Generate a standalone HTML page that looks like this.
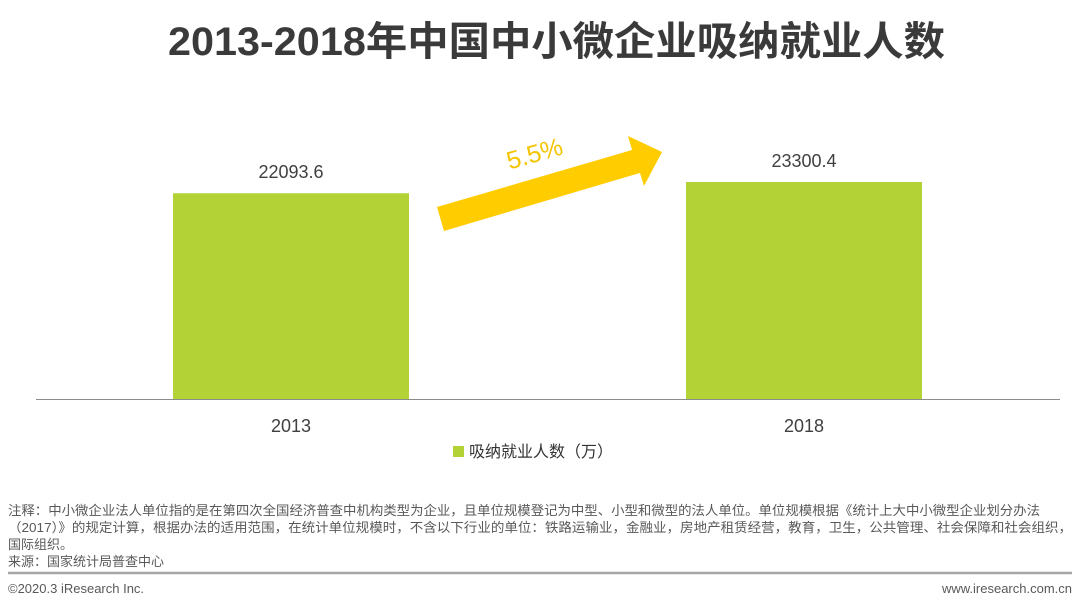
<!DOCTYPE html>
<html><head><meta charset="utf-8"><style>
body{margin:0;width:1080px;height:608px;background:#fff;overflow:hidden;font-family:"Liberation Sans","Noto Sans CJK SC",sans-serif;}
</style></head><body>
<svg width="1080" height="608" xmlns="http://www.w3.org/2000/svg" style="font-family:'Liberation Sans','Noto Sans CJK SC',sans-serif">
<text x="168" y="55" textLength="777" lengthAdjust="spacingAndGlyphs" font-size="40" font-weight="bold" fill="#3a3a3a">2013-2018年中国中小微企业吸纳就业人数</text>
<g id="plot"></g>
<line x1="36" y1="399.5" x2="1060" y2="399.5" stroke="#8c8c8c" stroke-width="1"/>
<polygon points="437,207 632,150 628,136 662,152 644,186 640,173 444,231" fill="#ffcc00"/>
<text x="535" y="162" text-anchor="middle" font-size="25" fill="#f5c400" transform="rotate(-16 535 155)">5.5%</text>
<rect x="453" y="446" width="11" height="11" fill="#b2d235"/>
<text x="469" y="457" font-size="16" fill="#333">吸纳就业人数（万）</text>
<g font-size="13" fill="#595959">
<text x="8" y="515" textLength="1032" lengthAdjust="spacingAndGlyphs">注释：中小微企业法人单位指的是在第四次全国经济普查中机构类型为企业，且单位规模登记为中型、小型和微型的法人单位。单位规模根据《统计上大中小微型企业划分办法</text>
<text x="8" y="532" textLength="1064" lengthAdjust="spacingAndGlyphs">（2017）》的规定计算，根据办法的适用范围，在统计单位规模时，不含以下行业的单位：铁路运输业，金融业，房地产租赁经营，教育，卫生，公共管理、社会保障和社会组织，</text>
<text x="8" y="549">国际组织。</text>
<text x="8" y="566">来源：国家统计局普查中心</text>
</g>
<line x1="8" y1="573" x2="1072" y2="573" stroke="#a6a6a6" stroke-width="2.5"/>
<text x="8" y="593" font-size="13" fill="#595959">©2020.3 iResearch Inc.</text>
<text x="1072" y="593" text-anchor="end" font-size="13" fill="#595959">www.iresearch.com.cn</text>
</svg>
<script>
const categories = ["2013","2018"];
const values = [22093.6, 23300.4];
const valueLabels = ["22093.6","23300.4"];
const yMax = 26737;
const baseY = 399, topY = 150;
const centers = [291, 804];
const barW = 236;
function yScale(v){return baseY - (v/yMax)*(baseY-topY);}
const ns="http://www.w3.org/2000/svg";
const g=document.getElementById('plot');
categories.forEach((c,i)=>{
  const y=yScale(values[i]);
  const r=document.createElementNS(ns,'rect');
  r.setAttribute('x',centers[i]-barW/2);r.setAttribute('y',y);
  r.setAttribute('width',barW);r.setAttribute('height',baseY-y);
  r.setAttribute('fill','#b2d235');
  
  
  g.appendChild(r);
  const t=document.createElementNS(ns,'text');
  t.setAttribute('x',centers[i]);t.setAttribute('y',y-15);
  t.setAttribute('text-anchor','middle');t.setAttribute('font-size','18');t.setAttribute('fill','#404040');
  t.textContent=valueLabels[i];
  
  
  g.appendChild(t);
  const x=document.createElementNS(ns,'text');
  x.setAttribute('x',centers[i]);x.setAttribute('y',432);
  x.setAttribute('text-anchor','middle');x.setAttribute('font-size','18');x.setAttribute('fill','#404040');
  x.textContent=c;
  
  
  g.appendChild(x);
});
</script>
</body></html>
